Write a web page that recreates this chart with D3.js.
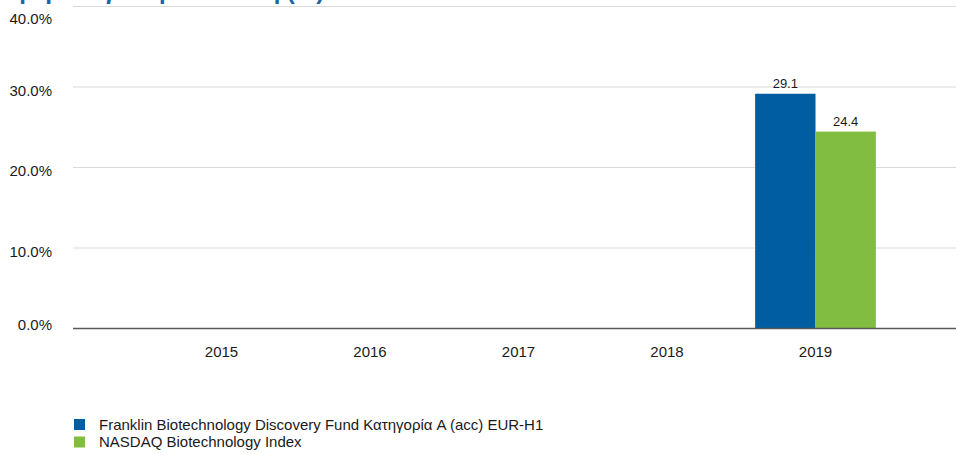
<!DOCTYPE html>
<html>
<head>
<meta charset="utf-8">
<script src="https://cdn.jsdelivr.net/npm/d3@7"></script>
<style>
  body { margin: 0; background: #fff; }
  svg { display: block; font-family: "Liberation Sans", Arial, sans-serif; }
</style>
</head>
<body>
<div id="chart"></div>
<script>
// data
const years = ["2015", "2016", "2017", "2018", "2019"]
const seriesNames = ["Franklin Biotechnology Discovery Fund Κατηγορία A (acc) EUR-H1", "NASDAQ Biotechnology Index"]
const fundValues = [null, null, null, null, 29.1]
const indexValues = [null, null, null, null, 24.4]
const yTicks = [0, 10, 20, 30, 40]
const colors = ["#005da2", "#80bd41"]

// dimensions
let dimensions = {
  width: 958,
  height: 454,
  margin: { top: 6, right: 0, bottom: 126, left: 73 },
}
dimensions.boundedWidth = dimensions.width - dimensions.margin.left - dimensions.margin.right
dimensions.boundedHeight = dimensions.height - dimensions.margin.top - dimensions.margin.bottom

const wrapper = d3.select("#chart")
  .append("svg")
    .attr("width", dimensions.width)
    .attr("height", dimensions.height)

// title, mostly above the top edge (only descenders show)
wrapper.append("text")
  .attr("x", 2)
  .attr("y", -1)
  .attr("fill", "#1a66a8")
  .style("font-size", "24px")
  .style("font-weight", "bold")
  .text("Ημερολογιακή απόδοση (%) σε EUR")

const bounds = wrapper.append("g")
  .attr("transform", `translate(${dimensions.margin.left},${dimensions.margin.top})`)

// scales
const xScale = d3.scaleBand()
  .domain(years)
  .range([0, dimensions.boundedWidth + 6])
  .paddingOuter(0.5)
  .paddingInner(0)

const xInner = d3.scaleBand()
  .domain([0, 1])
  .range([0, xScale.bandwidth()])
  .paddingOuter(0.23)
  .paddingInner(0)

const yScale = d3.scaleLinear()
  .domain([0, 40])
  .range([dimensions.boundedHeight, 0])

// gridlines
bounds.append("g")
  .selectAll("line")
  .data(yTicks.filter(t => t > 0))
  .join("line")
    .attr("x1", 0)
    .attr("x2", dimensions.boundedWidth - 2)
    .attr("y1", d => yScale(d) + 0.5)
    .attr("y2", d => yScale(d) + 0.5)
    .attr("stroke", "#d9d9d9")
    .attr("stroke-width", 1)

// y tick labels (offsets mimic the original layout)
const labelShift = d => d === 0 ? -3 : d === 40 ? 13 : 4
bounds.append("g")
  .selectAll("text")
  .data(yTicks)
  .join("text")
    .attr("x", -21)
    .attr("y", d => yScale(d) + labelShift(d))
    .attr("dy", "0.35em")
    .attr("text-anchor", "end")
    .attr("fill", "#1a1a1a")
    .style("font-size", "15px")
    .text(d => d3.format(".1f")(d) + "%")

// bars
const rows = years.map((y, i) => ({ year: y, values: [fundValues[i], indexValues[i]] }))

const groups = bounds.selectAll("g.year")
  .data(rows)
  .join("g")
    .attr("class", "year")
    .attr("transform", d => `translate(${xScale(d.year)},0)`)

const bars = groups.selectAll("g.bar")
  .data(d => d.values.map((v, k) => ({ v, k })).filter(e => e.v !== null))
  .join("g")
    .attr("class", "bar")

bars.append("rect")
  .attr("x", d => xInner(d.k))
  .attr("width", xInner.bandwidth())
  .attr("y", d => yScale(d.v))
  .attr("height", d => yScale(0) - yScale(d.v))
  .attr("fill", d => colors[d.k])

bars.append("text")
  .attr("x", d => xInner(d.k) + xInner.bandwidth() / 2)
  .attr("y", d => yScale(d.v) - 6)
  .attr("text-anchor", "middle")
  .attr("fill", "#1a1a1a")
  .style("font-size", "13px")
  .text(d => d3.format(".1f")(d.v))

// x axis
bounds.append("line")
  .attr("x1", 0)
  .attr("x2", dimensions.boundedWidth - 2)
  .attr("y1", yScale(0) + 0.5)
  .attr("y2", yScale(0) + 0.5)
  .attr("stroke", "#595959")
  .attr("stroke-width", 1.5)

bounds.append("g")
  .selectAll("text")
  .data(years)
  .join("text")
    .attr("x", d => xScale(d) + xScale.bandwidth() / 2)
    .attr("y", yScale(0) + 24)
    .attr("dy", "0.35em")
    .attr("text-anchor", "middle")
    .attr("fill", "#1a1a1a")
    .style("font-size", "15px")
    .text(d => d)

// legend
const legend = wrapper.append("g")
  .attr("transform", "translate(74,419)")

const items = legend.selectAll("g")
  .data(seriesNames)
  .join("g")
    .attr("transform", (d, i) => `translate(0,${i * 17.5})`)

items.append("rect")
  .attr("width", 11)
  .attr("height", 11)
  .attr("fill", (d, i) => colors[i])

items.append("text")
  .attr("x", 25)
  .attr("y", 5.5)
  .attr("dy", "0.35em")
  .attr("fill", "#1a1a1a")
  .style("font-size", "15px")
  .text(d => d)
</script>
</body>
</html>
